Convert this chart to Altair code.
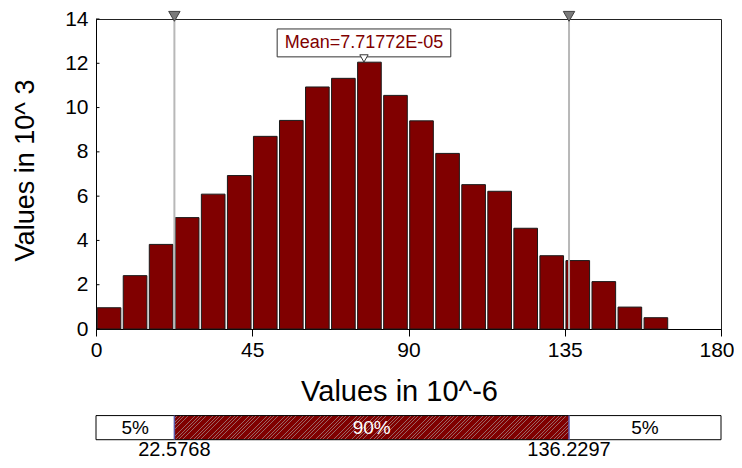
import altair as alt
import pandas as pd

# ---------------- data ----------------
bin_start = [0, 7.5, 15, 22.5, 30, 37.5, 45, 52.5, 60, 67.5, 75, 82.5,
             90, 97.5, 105, 112.5, 120, 127.5, 135, 142.5, 150, 157.5]
bin_end = [7.5, 15, 22.5, 30, 37.5, 45, 52.5, 60, 67.5, 75, 82.5, 90,
           97.5, 105, 112.5, 120, 127.5, 135, 142.5, 150, 157.5, 165]
counts = [0.96, 2.41, 3.82, 5.03, 6.09, 6.93, 8.70, 9.42, 10.93, 11.32, 12.05,
          10.55, 9.40, 7.93, 6.52, 6.22, 4.55, 3.31, 3.09, 2.14, 0.99, 0.51]
percentiles = [22.5768, 136.2297]
percentile_labels = ["22.5768", "136.2297"]
mean_value = 77.1772
mean_label = "Mean=7.71772E-05"
segment_labels = ["5%", "90%", "5%"]
x_ticks = [0, 45, 90, 135, 180]
y_ticks = [0, 2, 4, 6, 8, 10, 12, 14]

X_MIN, X_MAX = 0, 180
Y_MIN, Y_MAX = 0, 14

W, H = 625, 310
FONT = "Liberation Sans"
RED = "#800000"

# layout constants (in data units of the shared scales)
TRI_Y = 14.12
STRIP_TOP, STRIP_BOT = -3.91, -5.0
STRIP_MID = (STRIP_TOP + STRIP_BOT) / 2
PLABEL_Y = -5.73
BOX_HALF = 25
BOX_TOP, BOX_BOT = 13.55, 12.29
MEAN_TRI_Y = 12.22

xs = alt.Scale(domain=[X_MIN, X_MAX], nice=False, zero=False)
ys = alt.Scale(domain=[Y_MIN, Y_MAX], nice=False, zero=False)

bars_df = pd.DataFrame({"start": bin_start, "end": bin_end, "count": counts})
bars_df["base"] = 0

# keep the last x label inside the page: right-align it at the page edge
last_x = str(x_ticks[-1])
x_axis = alt.Axis(values=x_ticks, title="Values in 10^-6", grid=False,
                  tickSize=7, tickColor="black", labelPadding=3,
                  labelFlush=False,
                  labelAlign={"expr": f"datum.value >= {last_x} ? 'right' : 'center'"},
                  labelOffset={"expr": f"datum.value >= {last_x} ? 13 : 0"},
                  labelFontSize=21, labelFont=FONT, labelColor="black",
                  domainColor="black", titleFont=FONT, titleFontSize=29,
                  titleFontWeight="normal", titleColor="black",
                  titleX=303, titleY=62, titleBaseline="middle")
y_axis = alt.Axis(values=y_ticks, title="Values in 10^ 3", grid=False,
                  ticks=False, labelPadding=8, labelFontSize=21,
                  labelFlush=False,
                  labelFont=FONT, labelColor="black", domainColor="black",
                  titleFont=FONT, titleFontSize=27, titleFontWeight="normal",
                  titleColor="black", titleX=-71, titleY=151,
                  titleBaseline="middle")

bars = alt.Chart(bars_df).mark_rect(
    fill=RED, stroke="#1a1a1a", strokeWidth=1, xOffset=1.2, x2Offset=-1.2
).encode(
    x=alt.X("start:Q", scale=xs, axis=x_axis),
    x2="end:Q",
    y=alt.Y("base:Q", scale=ys, axis=y_axis),
    y2="count:Q",
)

# inward y ticks
ytick_df = pd.DataFrame({"y": y_ticks, "x0": 0, "x1": 1.0})
yticks = alt.Chart(ytick_df).mark_rule(color="black", strokeWidth=1).encode(
    x="x0:Q", x2="x1:Q", y="y:Q")

pct_df = pd.DataFrame({"x": percentiles, "label": percentile_labels})
pct_df["y0"] = 0
pct_df["y1"] = TRI_Y
pct_df["ytri"] = TRI_Y
pct_df["ystrip0"] = STRIP_TOP
pct_df["ystrip1"] = STRIP_BOT
pct_df["ylab"] = PLABEL_Y

pct_rules = alt.Chart(pct_df).mark_rule(color="#b8b8b8", strokeWidth=2).encode(
    x="x:Q", y="y0:Q", y2="y1:Q")
pct_tris = alt.Chart(pct_df).mark_point(
    shape="triangle-down", filled=True, fill="#7a7a7a", stroke="#404040",
    strokeWidth=1, size=130, opacity=1
).encode(x="x:Q", y="ytri:Q")

mean_df = pd.DataFrame({"x": [mean_value], "label": [mean_label]})
mean_df["x0"] = mean_value - BOX_HALF
mean_df["x1"] = mean_value + BOX_HALF
mean_df["y0"] = BOX_BOT
mean_df["y1"] = BOX_TOP
mean_df["ytxt"] = (BOX_TOP + BOX_BOT) / 2
mean_df["ytri"] = MEAN_TRI_Y

mean_box = alt.Chart(mean_df).mark_rect(
    fill="white", stroke="#333333", strokeWidth=1).encode(
    x="x0:Q", x2="x1:Q", y="y0:Q", y2="y1:Q")
mean_text = alt.Chart(mean_df).mark_text(
    font=FONT, fontSize=18, color=RED, baseline="middle", align="center"
).encode(x="x:Q", y="ytxt:Q", text="label:N")
mean_tri = alt.Chart(mean_df).mark_point(
    shape="triangle-down", filled=True, fill="white", stroke="#333333",
    strokeWidth=1, size=70, opacity=1).encode(x="x:Q", y="ytri:Q")

# ---------------- bottom percentile strip ----------------
seg_start = [X_MIN, percentiles[0], percentiles[1]]
seg_end = [percentiles[0], percentiles[1], X_MAX]
strip_df = pd.DataFrame({"start": seg_start, "end": seg_end,
                         "label": segment_labels})
strip_df["mid"] = (strip_df["start"] + strip_df["end"]) / 2
strip_df["y0"] = STRIP_TOP
strip_df["y1"] = STRIP_BOT
strip_df["ym"] = STRIP_MID
strip_df["tcolor"] = ["black", "white", "black"]

# hatched fill for the middle segment as a striped linear gradient
seg_px = (percentiles[1] - percentiles[0]) / (X_MAX - X_MIN) * W
seg_h = (STRIP_TOP - STRIP_BOT) / (Y_MAX - Y_MIN) * H
b = seg_h / seg_px
k = 1.1
period = 3.6
line_w = 0.9
dt = period / (seg_px * k * (1 + b * b))
lw = line_w / (seg_px * k * (1 + b * b))
stops = []
t = 0.0
hatch = "#9a6464"
while t + dt < 1:
    stops += [alt.GradientStop(offset=t, color=RED),
              alt.GradientStop(offset=t + dt - lw, color=RED),
              alt.GradientStop(offset=t + dt - lw, color=hatch),
              alt.GradientStop(offset=t + dt, color=hatch)]
    t += dt
stops.append(alt.GradientStop(offset=1, color=RED))
grad = alt.LinearGradient(gradient="linear", stops=stops, x1=0, y1=0,
                          x2=k, y2=k * b)

strip_white = alt.Chart(strip_df.iloc[[0, 2]]).mark_rect(fill="white").encode(
    x="start:Q", x2="end:Q", y="y0:Q", y2="y1:Q")
strip_mid = alt.Chart(strip_df.iloc[[1]]).mark_rect(fill=grad).encode(
    x="start:Q", x2="end:Q", y="y0:Q", y2="y1:Q")
frame_df = pd.DataFrame({"x0": [X_MIN], "x1": [X_MAX], "y0": [STRIP_TOP],
                         "y1": [STRIP_BOT]})
strip_frame = alt.Chart(frame_df).mark_rect(
    fill="white", fillOpacity=0, stroke="black", strokeWidth=1).encode(
    x="x0:Q", x2="x1:Q", y="y0:Q", y2="y1:Q")
strip_div = alt.Chart(pct_df).mark_rule(color="#5a5aaa", strokeWidth=1.5).encode(
    x="x:Q", y="ystrip0:Q", y2="ystrip1:Q")
strip_text = alt.Chart(strip_df).mark_text(
    font=FONT, fontSize=19, baseline="middle", align="center").encode(
    x="mid:Q", y="ym:Q", text="label:N",
    color=alt.Color("tcolor:N", scale=None))
pct_text = alt.Chart(pct_df).mark_text(
    font=FONT, fontSize=20, baseline="alphabetic", align="center",
    color="black").encode(x="x:Q", y="ylab:Q", text="label:N")

chart = alt.layer(
    bars, yticks, pct_rules, pct_tris, mean_box, mean_text, mean_tri,
    strip_white, strip_mid, strip_frame, strip_div, strip_text, pct_text
).properties(
    width=W, height=H,
    autosize=alt.AutoSizeParams(type="none"),
    padding={"left": 88, "top": 11, "right": 13, "bottom": 131},
    background="white",
).configure_view(stroke="#222222", strokeWidth=1)

chart.save("out.html", embed_options={"renderer": "svg", "actions": False})
